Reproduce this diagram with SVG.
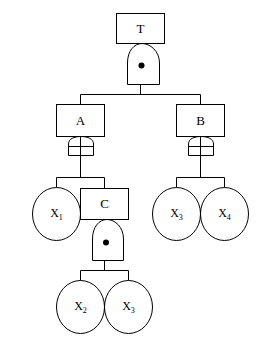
<svg xmlns="http://www.w3.org/2000/svg" width="272" height="350" viewBox="0 0 272 350">
<style>
.ln{stroke:#000;stroke-width:1;fill:none}
.bx{stroke:#000;stroke-width:1;fill:#fff}
.lb{font-family:"Liberation Serif","Times New Roman",serif;font-size:13px;fill:#000;text-anchor:middle}
.xl{font-family:"Liberation Serif","Times New Roman",serif;font-size:12px;fill:#000;text-anchor:middle}
.sb{font-size:8px}
</style>
<rect width="272" height="350" fill="#fff"/>
<g id="connectors" class="ln">
<path d="M140.5,84.5V94.5"/>
<path d="M80.5,94.5H200.5"/>
<path d="M80.5,94.5V104.5M200.5,94.5V104.5"/>
<path d="M80.5,155.5V177.5M56.5,177.5H104.5M56.5,177.5V187.5M104.5,177.5V188.5"/>
<path d="M200.5,155.5V177.5M176.5,177.5H224.5M176.5,177.5V187.5M224.5,177.5V187.5"/>
<path d="M104.5,260.5V270.5M80.5,270.5H128.5M80.5,270.5V280.5M128.5,270.5V280.5"/>
</g>
<g id="T">
<rect class="bx" x="116.5" y="13.5" width="48" height="30"/>
<text class="lb" x="140.5" y="33">T</text>
</g>
<g id="gate-T">
<path class="ln" d="M127.5,84.5V63C127.5,51 134,43.5 142,43.5C150,43.5 159.5,51 159.5,63V84.5Z"/>
<circle cx="141.5" cy="65.5" r="3" fill="#000"/>
</g>
<g id="A">
<rect class="bx" x="56.5" y="104.5" width="48" height="32"/>
<text class="lb" x="80.5" y="125">A</text>
</g>
<g id="gate-A" class="ln">
<path d="M68.5,155.5V144C68.5,139 74,136.5 81,136.5C88,136.5 93.5,139 93.5,144V155.5Z"/>
<path d="M68.5,146.5H93.5M80.5,136.5V155.5"/>
</g>
<g id="B">
<rect class="bx" x="176.5" y="104.5" width="48" height="32"/>
<text class="lb" x="200.5" y="125">B</text>
</g>
<g id="gate-B" class="ln">
<path d="M188.5,155.5V144C188.5,139 194,136.5 201,136.5C208,136.5 213.5,139 213.5,144V155.5Z"/>
<path d="M188.5,146.5H213.5M200.5,136.5V155.5"/>
</g>
<g id="X1">
<ellipse class="ln" cx="56.5" cy="214" rx="24" ry="26.5"/>
<text class="xl" x="56.5" y="217">X<tspan class="sb" dy="3">1</tspan></text>
</g>
<g id="C">
<rect class="bx" x="80.5" y="188.5" width="48" height="31"/>
<text class="lb" x="104.5" y="208">C</text>
</g>
<g id="gate-C">
<path class="ln" d="M92.5,260.5V239C92.5,227 99,219.5 107,219.5C115,219.5 123.5,227 123.5,239V260.5Z"/>
<circle cx="106" cy="242.5" r="3" fill="#000"/>
</g>
<g id="X3a">
<ellipse class="ln" cx="176.5" cy="214" rx="24" ry="26.5"/>
<text class="xl" x="176.5" y="217">X<tspan class="sb" dy="3">3</tspan></text>
</g>
<g id="X4">
<ellipse class="ln" cx="224.5" cy="214" rx="24" ry="26.5"/>
<text class="xl" x="224.5" y="217">X<tspan class="sb" dy="3">4</tspan></text>
</g>
<g id="X2">
<ellipse class="ln" cx="80.5" cy="307" rx="24" ry="26.5"/>
<text class="xl" x="80.5" y="310">X<tspan class="sb" dy="3">2</tspan></text>
</g>
<g id="X3b">
<ellipse class="ln" cx="128.5" cy="307" rx="24" ry="26.5"/>
<text class="xl" x="128.5" y="310">X<tspan class="sb" dy="3">3</tspan></text>
</g>
</svg>
